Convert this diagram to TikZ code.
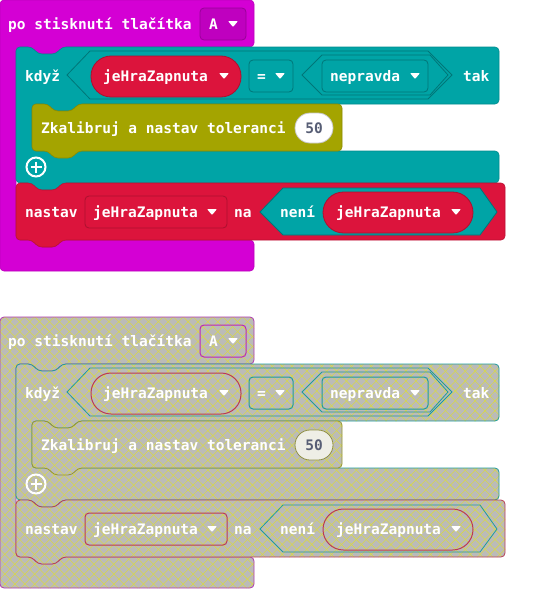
\documentclass[tikz,border=0pt]{standalone}
\usepackage{fontspec}
\newfontfamily\blockfont{DejaVu Sans Mono}[UprightFont=* Bold]
\usetikzlibrary{patterns.meta}

\definecolor{evtcol}{HTML}{D400D4}
\definecolor{ctlcol}{HTML}{00A4A6}
\definecolor{calcol}{HTML}{A4A400}
\definecolor{varcol}{HTML}{DC143C}
\definecolor{numink}{HTML}{575E75}
\definecolor{ghostgrey}{HTML}{BBBBB8}
\definecolor{ghostpill}{HTML}{EEEEE6}
\definecolor{hatch}{HTML}{D8D848}

% notch running left to right / tab running right to left (both dip downwards)
\newcommand\dipLR[2]{-- ({#1+16},{#2}) -- ({#1+22},{#2+7}) -- ({#1+40},{#2+7}) -- ({#1+46},{#2})}
\newcommand\dipRL[2]{-- ({#1+46},{#2}) -- ({#1+40},{#2+7}) -- ({#1+22},{#2+7}) -- ({#1+16},{#2})}
\newcommand\caretat[2]{\fill[caret] ({#1-5},{#2-3}) -- ({#1+5},{#2-3}) -- (#1,{#2+3}) -- cycle;}

\tikzset{
  lbl/.style={anchor=base west, inner sep=0pt, text=white,
    font=\blockfont\fontsize{14.5}{17}\selectfont},
  numlbl/.style={lbl, anchor=base, text=numink},
  caret/.style={fill=white, rounded corners=0.8pt},
  addicon/.style={draw=white, line width=2pt},
  ghost/.style={
    preaction={fill=ghostgrey},
    preaction={pattern={Lines[angle=45,distance=7pt,line width=0.55pt]}, pattern color=hatch},
    preaction={pattern={Lines[angle=-45,distance=7pt,line width=0.55pt]}, pattern color=hatch}},
  colourset/.style={
    evtshape/.style={fill=evtcol, draw=evtcol!88!black, line width=0.6pt, rounded corners=4pt},
    ctlshape/.style={fill=ctlcol, draw=ctlcol!85!black, line width=0.6pt, rounded corners=4pt},
    calshape/.style={fill=calcol, draw=calcol!85!black, line width=0.6pt, rounded corners=4pt},
    varshape/.style={fill=varcol, draw=varcol!85!black, line width=0.6pt, rounded corners=4pt},
    evtdrop/.style={fill=evtcol!90!black, draw=evtcol!72!black, line width=0.8pt, rounded corners=4pt},
    ctldrop/.style={fill=ctlcol, draw=ctlcol!72!black, line width=0.8pt, rounded corners=4pt},
    vardrop/.style={fill=varcol, draw=varcol!78!black, line width=0.8pt, rounded corners=4pt},
    ctlhex/.style={fill=ctlcol, draw=ctlcol!72!black, line width=0.8pt},
    varpill/.style={fill=varcol, draw=varcol!78!black, line width=0.8pt},
    numpill/.style={fill=white, draw=gray!45, line width=0.8pt}},
  ghostset/.style={
    evtshape/.style={ghost, draw=evtcol!55!gray, line width=0.8pt, rounded corners=4pt},
    ctlshape/.style={ghost, draw=ctlcol!75!gray, line width=0.8pt, rounded corners=4pt},
    calshape/.style={ghost, draw=calcol!65!gray, line width=0.8pt, rounded corners=4pt},
    varshape/.style={ghost, draw=varcol!60!gray, line width=0.8pt, rounded corners=4pt},
    evtdrop/.style={ghost, draw=evtcol!70!gray, line width=1pt, rounded corners=4pt},
    ctldrop/.style={ghost, draw=ctlcol!75!gray, line width=1pt, rounded corners=4pt},
    vardrop/.style={ghost, draw=varcol!65!gray, line width=1pt, rounded corners=4pt},
    ctlhex/.style={ghost, draw=ctlcol!75!gray, line width=0.8pt},
    varpill/.style={ghost, draw=varcol!65!gray, line width=1pt},
    numpill/.style={fill=ghostpill, draw=calcol!45!gray, line width=0.8pt}}
}

% the whole program: event, if-block, calibration call, variable assignment
\newcommand\progbody{%
  % event block "po stisknutí tlačítka"
  \path[evtshape] (0,0) -- (254,0) -- (254,47) \dipRL{16}{47} -- (16,47)
    -- (16,240) \dipLR{16}{240} -- (254,240) -- (254,271) -- (0,271) -- cycle;
  \path[evtdrop] (200,8) rectangle (246,40);
  \node[lbl] (hat) at (8,29) {po stisknutí tlačítka};
  \node[lbl] (hatkey) at (209,29) {A};
  \caretat{233}{24}
  % if block
  \path[ctlshape] (16,47) \dipLR{16}{47} -- (499,47) -- (499,104) \dipRL{32}{104}
    -- (32,104) -- (32,151) -- (499,151) -- (499,183) \dipRL{16}{183} -- (16,183) -- cycle;
  \node[lbl] (ifword) at (25,81) {když};
  \path[ctlhex] (67,75) -- (90,51) -- (428,51) -- (452,75) -- (428,99) -- (90,99) -- cycle;
  \path[varpill, rounded corners=20pt] (91,56) rectangle (241,97);
  \node[lbl] (condvar) at (103,81) {jeHraZapnuta};
  \caretat{224}{76}
  \path[ctldrop] (249,60) rectangle (293,92);
  \node[lbl] (condop) at (257,81) {=};
  \caretat{280}{76}
  \path[ctlhex] (302,75) -- (322,55) -- (430,55) -- (448,75) -- (430,95) -- (322,95) -- cycle;
  \path[ctldrop] (322,60) rectangle (428,92);
  \node[lbl] (condval) at (330,81) {nepravda};
  \caretat{415}{76}
  \node[lbl] (thenword) at (463,81) {tak};
  \draw[addicon] (36,167) circle (9.5);
  \draw[addicon] (30.5,167) -- (41.5,167) (36,161.5) -- (36,172.5);
  % calibration call
  \path[calshape] (32,104) \dipLR{32}{104} -- (342,104) -- (342,151) \dipRL{32}{151} -- (32,151) -- cycle;
  \node[lbl] (calib) at (41,133) {Zkalibruj a nastav toleranci};
  \path[numpill, rounded corners=15pt] (295,113) rectangle (333,143);
  \node[numlbl] (calnum) at (314,133) {50};
  % variable assignment
  \path[varshape] (16,183) \dipLR{16}{183} -- (505,183) -- (505,240) \dipRL{16}{240} -- (16,240) -- cycle;
  \node[lbl] (setword) at (25,217) {nastav};
  \path[vardrop] (85,196) rectangle (227,228);
  \node[lbl] (setvar) at (93,217) {jeHraZapnuta};
  \caretat{212}{212}
  \node[lbl] (toword) at (234,217) {na};
  \path[ctlhex] (260,212) -- (283,188) -- (480,188) -- (497,212) -- (480,235) -- (283,235) -- cycle;
  \node[lbl] (notword) at (280,217) {není};
  \path[varpill, rounded corners=20.5pt] (323,192) rectangle (473,233);
  \node[lbl] (notvar) at (336,217) {jeHraZapnuta};
  \caretat{456}{212}
}

\begin{document}
\begin{tikzpicture}[x=1pt, y=-1pt]
  \useasboundingbox (0,0) rectangle (557,589);
  \begin{scope}[name prefix=top-, colourset]
    \progbody
  \end{scope}
  \begin{scope}[name prefix=ghost-, ghostset, shift={(0,317)}]
    \progbody
  \end{scope}
\end{tikzpicture}
\end{document}
